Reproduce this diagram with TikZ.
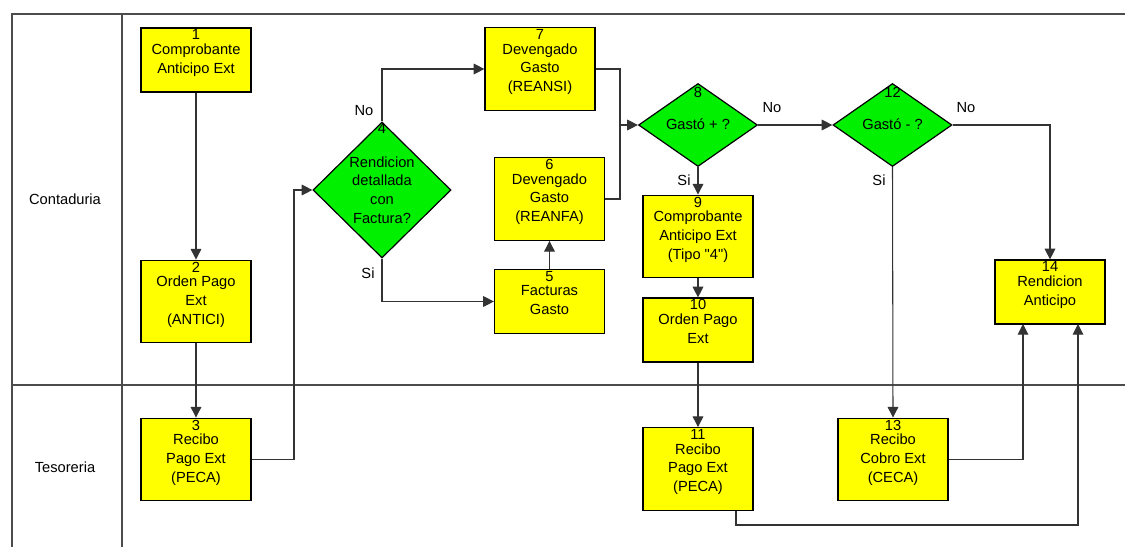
\documentclass[tikz,border=0pt]{standalone}
\usepackage{fontspec}
\setmainfont{Liberation Sans}
\usetikzlibrary{arrows.meta,shapes.geometric}
\definecolor{boxyellow}{RGB}{255,255,0}
\definecolor{decgreen}{RGB}{0,240,0}

\begin{document}
\begin{tikzpicture}[x=0.75pt,y=-0.75pt,font=\fontsize{11}{14}\selectfont,
  box/.style={draw,fill=boxyellow,minimum width=82.5pt,inner sep=0pt,line width=0.9pt},
  tall/.style={minimum height=62pt},
  short/.style={minimum height=48pt},
  dec/.style={draw,fill=decgreen,diamond,inner sep=0pt,line width=0.9pt},
  txt/.style={anchor=north,align=center,inner sep=1.5pt},
  lane/.style={draw=black!70,line width=0.8pt},
  arr/.style={draw=black!80,line width=0.8pt,-{Triangle[length=8pt,width=8pt]}},
  lin/.style={draw=black!80,line width=0.8pt}]
\useasboundingbox(0,0)rectangle(1125,547);
% lanes
\draw[lane](11,14)--(1125,14);
\draw[lane](12,14)--(12,547);
\draw[lane](122,14)--(122,547);
\draw[lane](12,385)--(1125,385);
\node (contaduria) at(65,199){Contaduria};
\node (tesoreria) at(65,467){Tesoreria};
% boxes
\node[box,short](b1)at(196,60){};
\node[txt](t1)at(b1.north){1\\[-3pt]Comprobante\\Anticipo Ext};
\node[box,tall](b2)at(196,301.5){};
\node[txt](t2)at(b2.north){2\\[-3pt]Orden Pago\\Ext\\(ANTICI)};
\node[box,tall](b3)at(196,459.5){};
\node[txt](t3)at(b3.north){3\\[-3pt]Recibo\\Pago Ext\\(PECA)};
\node[box,short](b5)at(549.5,301.5){};
\node[txt](t5)at(b5.north){5\\[-3pt]Facturas\\Gasto};
\node[box,tall](b6)at(549.5,199){};
\node[txt](t6)at(b6.north){6\\[-3pt]Devengado\\Gasto\\(REANFA)};
\node[box,tall](b7)at(540,69){};
\node[txt](t7)at(b7.north){7\\[-3pt]Devengado\\Gasto\\(REANSI)};
\node[box,tall](b9)at(698,236.5){};
\node[txt](t9)at(b9.north){9\\[-3pt]Comprobante\\Anticipo Ext\\(Tipo \textquotedbl4\textquotedbl)};
\node[box,short](b10)at(698,330){};
\node[txt](t10)at(b10.north){10\\[-3pt]Orden Pago\\Ext};
\node[box,tall](b11)at(698,469){};
\node[txt](t11)at(b11.north){11\\[-3pt]Recibo\\Pago Ext\\(PECA)};
\node[box,tall](b13)at(893,459.5){};
\node[txt](t13)at(b13.north){13\\[-3pt]Recibo\\Cobro Ext\\(CECA)};
\node[box,short](b14)at(1050,292){};
\node[txt](t14)at(b14.north){14\\[-3pt]Rendicion\\Anticipo};
% decisions
\node[dec,minimum width=103.5pt,minimum height=102pt](d4)at(382,190){};
\node (n4) at(382,128.5){4};
\node[align=center](q4)at(382,190){Rendicion\\detallada\\con\\Factura?};
\node[dec,minimum width=89.25pt,minimum height=62.25pt](d8)at(698,125){};
\node (n8) at(698,92){8};
\node (q8) at(698,124){Gastó + ?};
\node[dec,minimum width=89.25pt,minimum height=62.25pt](d12)at(892.5,125){};
\node (n12) at(892.5,92){12};
\node (q12) at(892.5,124){Gastó - ?};
% helper points
\coordinate (c34) at(294,190);
\coordinate (c8) at(620,125);
\coordinate (c13) at(1023,324);
\coordinate (c11) at(736,525);
\coordinate (c11b) at(1078,324);
% connectors
\draw[arr](b1)--(b2);
\draw[arr](b2)--(b3);
\draw[arr](b3.east)-|(c34)--(d4.west);
\draw[arr](d4.north)|-(b7.west);
\draw[arr](d4.south)|-(b5.west);
\draw[arr](b5)--(b6);
\draw[lin](b7.east)-|(c8);
\draw[lin](b6.east)-|(c8);
\draw[arr](c8)--(d8.west);
\draw[arr](d8.east)--(d12.west);
\draw[arr](d12.east)-|(b14.north);
\draw[arr](d8.south)--(b9.north);
\draw[arr](b9)--(b10);
\draw[arr](b10)--(b11);
\draw[arr](d12.south)--(b13.north);
\draw[arr](b13.east)-|(c13);
\draw[arr](c11|-b11.south)--(c11)-|(c11b);
% answers
\node (no4) at(364,111){No};
\node (si4) at(368,273){Si};
\node (no8) at(772,108){No};
\node (si8) at(684,180){Si};
\node (no12) at(966,108){No};
\node (si12) at(879,180){Si};
\end{tikzpicture}
\end{document}
